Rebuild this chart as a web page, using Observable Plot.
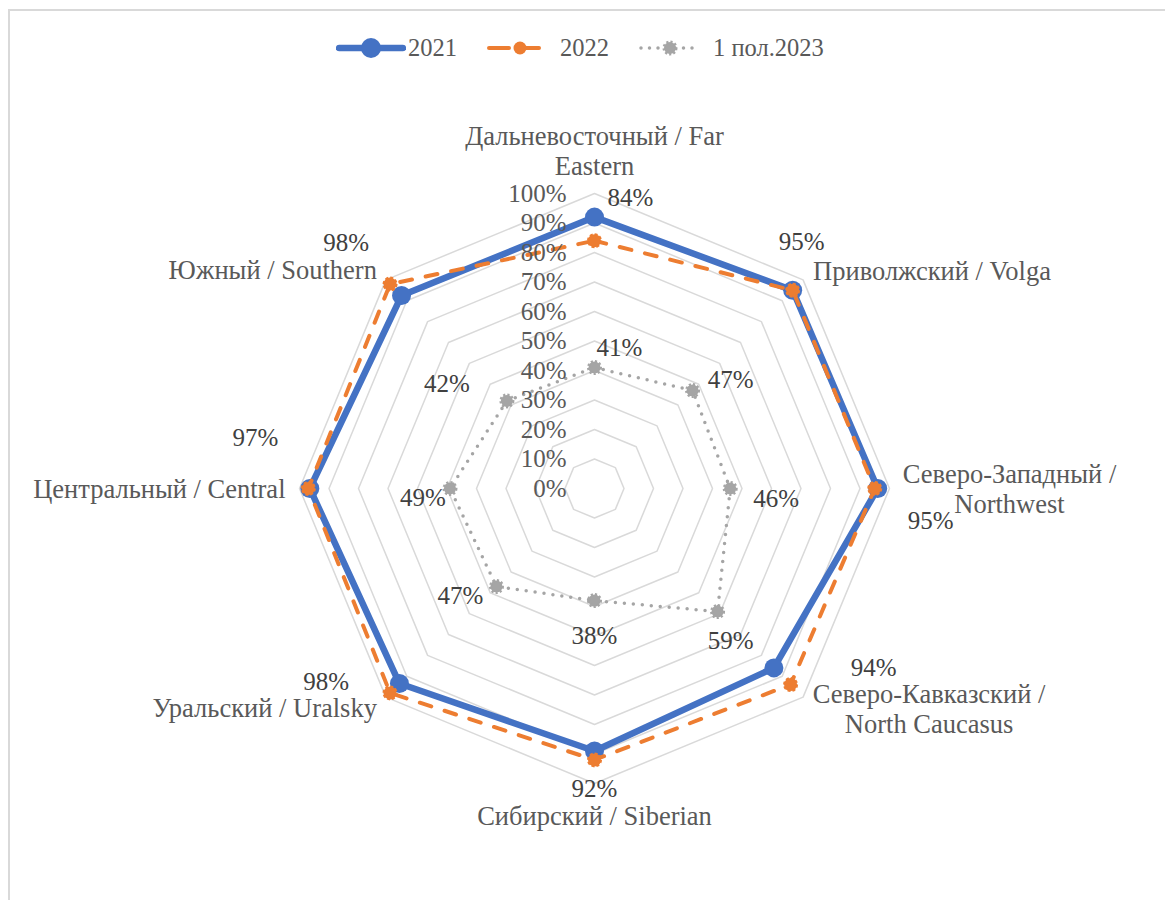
<!DOCTYPE html>
<html>
<head>
<meta charset="utf-8">
<script src="https://cdn.jsdelivr.net/npm/d3@7"></script>
<script src="https://cdn.jsdelivr.net/npm/@observablehq/plot@0.6"></script>
<style>
  body { margin: 0; background: #fff; font-family: 'Liberation Serif', 'Times New Roman', serif; }
  #wrap { position: relative; width: 1165px; height: 900px; overflow: hidden; background: #fff; }
  #frame { position: absolute; left: 8px; top: 9px; width: 1200px; height: 1000px; border: 2px solid #d9d9d9; box-sizing: border-box; pointer-events: none; z-index: 5; }
  #legend { position: absolute; top: 30px; left: 336px; height: 36px; display: flex; align-items: center; font-size: 24.5px; color: #595959; z-index: 3; }
  #legend .item { display: flex; align-items: center; margin-right: 30px; }
  #legend .item span { line-height: 1; }
  #chart { position: absolute; left: 0; top: 90px; }
  #chart svg text { font-family: 'Liberation Serif', 'Times New Roman', serif; }
</style>
</head>
<body>
<div id="wrap">
  <div id="frame"></div>
  <div id="legend"></div>
  <div id="chart"></div>
</div>
<script>
// ---------- data ----------
const categories = [
  "Дальневосточный / Far\nEastern",
  "Приволжский / Volga",
  "Северо-Западный /\nNorthwest",
  "Северо-Кавказский /\nNorth Caucasus",
  "Сибирский / Siberian",
  "Уральский / Uralsky",
  "Центральный / Central",
  "Южный / Southern"
];
const seriesNames = ["2021", "2022", "1 пол.2023"];
const values2021 = [92, 95, 96, 86, 89, 93.5, 96.5, 92.5];
const values2022 = [84, 95, 95, 94, 92, 98, 97, 98];
const values2023 = [41, 47, 46, 59, 38, 47, 49, 42];
const tickValues = [0, 10, 20, 30, 40, 50, 60, 70, 80, 90, 100];

// ---------- layout / style ----------
const W = 1165, H = 810;
const CX = 594, CY = 398, R = 295;
const C_BLUE = "#4472C4", C_ORANGE = "#ED7D31", C_GRAY = "#A5A5A5";
const TXT = "#595959", TXT_DARK = "#404040";
const FS_CAT = 26.5, FS_NUM = 25;

const catNudge = [
  {dx: 0, dy: -43, anchor: "middle"},
  {dx: 10, dy: -9, anchor: "start"},
  {dx: 120, dy: 0, anchor: "middle"},
  {dx: 126, dy: 11, anchor: "middle"},
  {dx: 0, dy: 32, anchor: "middle"},
  {dx: -9, dy: 10, anchor: "end"},
  {dx: -14, dy: 0, anchor: "end"},
  {dx: -9, dy: -10, anchor: "end"}
];
const nudge2022 = [[36,-43],[9,-48],[56,32],[83,-17],[0,29],[-64,-11],[-53,-51],[-44,-41]];
const nudge2023 = [[25,-20],[38,-10],[46,10],[13,29],[0,35],[-36,9],[-27,9],[-60,-17]];

const N = categories.length;
const ang = i => i * 2 * Math.PI / N;
const pt = (i, v) => ({i, v, x: (v / 100) * Math.sin(ang(i)), y: (v / 100) * Math.cos(ang(i))});
const series = vals => vals.map((v, i) => pt(i, v));
const closed = pts => [...pts, pts[0]];

const rings = tickValues.filter(t => t > 0).flatMap(t =>
  closed(d3.range(N).map(i => ({...pt(i, t), level: t}))));

const s21 = series(values2021), s22 = series(values2022), s23 = series(values2023);
const outer = d3.range(N).map(i => pt(i, 100));

const marks = [
  Plot.line(rings, {x: "x", y: "y", z: "level", stroke: "#d9d9d9", strokeWidth: 1.5}),
  Plot.line(closed(s21), {x: "x", y: "y", stroke: C_BLUE, strokeWidth: 6.5, strokeLinejoin: "round"}),
  Plot.dot(s21, {x: "x", y: "y", r: 9.5, fill: C_BLUE}),
  Plot.line(closed(s22), {x: "x", y: "y", stroke: C_ORANGE, strokeWidth: 4, strokeDasharray: "12,14", strokeLinecap: "round"}),
  Plot.dot(s22, {x: "x", y: "y", r: 6.5, fill: C_ORANGE, stroke: C_ORANGE, strokeWidth: 2, strokeDasharray: "3,2"}),
  Plot.line(closed(s23), {x: "x", y: "y", stroke: C_GRAY, strokeWidth: 3.5, strokeDasharray: "0,9", strokeLinecap: "round"}),
  Plot.dot(s23, {x: "x", y: "y", r: 6, fill: C_GRAY, stroke: C_GRAY, strokeWidth: 3, strokeDasharray: "2,2"}),
  Plot.text(tickValues, {x: 0, y: d => d / 100, text: d => d + "%", textAnchor: "end", dx: -28, fontSize: FS_NUM, fill: TXT})
];

outer.forEach((p, i) => {
  const n = catNudge[i];
  marks.push(Plot.text([p], {x: "x", y: "y", text: () => categories[i], textAnchor: n.anchor, dx: n.dx, dy: n.dy,
    fontSize: FS_CAT, lineHeight: 1.13, fill: TXT}));
});
s22.forEach((p, i) => {
  marks.push(Plot.text([p], {x: "x", y: "y", text: d => Math.round(d.v) + "%", textAnchor: "middle",
    dx: nudge2022[i][0], dy: nudge2022[i][1], fontSize: FS_NUM, fill: TXT_DARK}));
});
s23.forEach((p, i) => {
  marks.push(Plot.text([p], {x: "x", y: "y", text: d => Math.round(d.v) + "%", textAnchor: "middle",
    dx: nudge2023[i][0], dy: nudge2023[i][1], fontSize: FS_NUM, fill: TXT_DARK}));
});

const chart = Plot.plot({
  width: W, height: H,
  marginTop: 0, marginRight: 0, marginBottom: 0, marginLeft: 0,
  x: {domain: [-CX / R, (W - CX) / R], range: [0, W], axis: null},
  y: {domain: [-(H - CY) / R, CY / R], range: [H, 0], axis: null},
  style: {background: "transparent", overflow: "visible"},
  marks
});
document.getElementById("chart").appendChild(chart);

// ---------- legend ----------
const legendSpecs = [
  {name: seriesNames[0], w: 70, gap: 2, svg: `<line x1="3" y1="12" x2="67" y2="12" stroke="${C_BLUE}" stroke-width="6.5" stroke-linecap="round"/><circle cx="35" cy="12" r="10" fill="${C_BLUE}"/>`},
  {name: seriesNames[1], w: 62, gap: 11, svg: `<line x1="2" y1="12" x2="60" y2="12" stroke="${C_ORANGE}" stroke-width="4" stroke-dasharray="20,10" stroke-linecap="round"/><circle cx="33" cy="12" r="6.5" fill="${C_ORANGE}"/>`},
  {name: seriesNames[2], w: 62, gap: 12, svg: `<line x1="2" y1="12" x2="60" y2="12" stroke="${C_GRAY}" stroke-width="3.5" stroke-dasharray="0,8.5" stroke-linecap="round"/><circle cx="31" cy="12" r="6" fill="${C_GRAY}" stroke="${C_GRAY}" stroke-width="3" stroke-dasharray="2,2"/>`}
];
const leg = document.getElementById("legend");
legendSpecs.forEach(s => {
  const item = document.createElement("div");
  item.className = "item";
  item.innerHTML = `<svg width="${s.w}" height="24" viewBox="0 0 ${s.w} 24">${s.svg}</svg><span style="margin-left:${s.gap}px">${s.name}</span>`;
  leg.appendChild(item);
});
</script>
</body>
</html>
